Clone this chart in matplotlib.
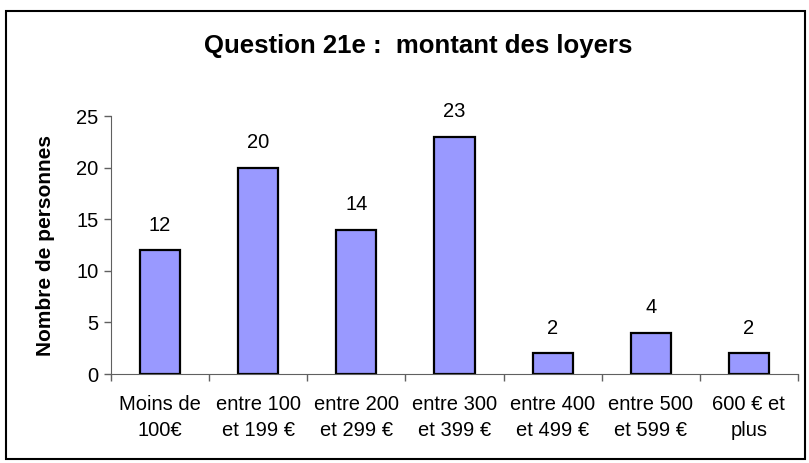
import matplotlib.pyplot as plt
from matplotlib.patches import Rectangle

categories = ["Moins de\n100€", "entre 100\net 199 €", "entre 200\net 299 €",
              "entre 300\net 399 €", "entre 400\net 499 €", "entre 500\net 599 €",
              "600 € et\nplus"]
counts = [12, 20, 14, 23, 2, 4, 2]
y_ticks = [0, 5, 10, 15, 20, 25]

plt.rcParams['font.family'] = ['Liberation Sans', 'DejaVu Sans']

fig = plt.figure(figsize=(8.09, 4.63), dpi=100)
ax = fig.add_axes([111 / 809, 89 / 463, 687 / 809, 258 / 463])

pos = list(range(len(categories)))
ax.bar(pos, counts, width=0.41, color='#9999FF', edgecolor='black', linewidth=1.6)
for x, v in zip(pos, counts):
    ax.annotate(str(v), (x, v), xytext=(0, 11), textcoords='offset points',
                ha='center', va='bottom', fontsize=14.5)

ax.set_xlim(-0.5, len(categories) - 0.5)
ax.set_ylim(0, 25)
ax.set_yticks(y_ticks)
ax.tick_params(axis='y', labelsize=14.5, length=5, width=1, direction='out', pad=4)

# boundary ticks between categories, labels sit on the centres
ax.set_xticks([i - 0.5 for i in range(len(categories) + 1)])
ax.set_xticklabels([])
ax.tick_params(axis='x', which='major', length=5, width=1, direction='out')
ax.set_xticks(pos, minor=True)
ax.set_xticklabels(categories, minor=True, fontsize=14.5, linespacing=1.5)
ax.tick_params(axis='x', which='minor', length=0, pad=15)

for side in ['top', 'right']:
    ax.spines[side].set_visible(False)
ax.spines['left'].set_color('#606060')
ax.spines['bottom'].set_color('#606060')
ax.tick_params(axis='both', which='major', color='#606060')

fig.text(46 / 809, 1 - 245 / 463, "Nombre de personnes", rotation=90, ha='center', va='center',
         fontsize=15, fontweight='bold')
fig.text(418 / 809, 1 - 46 / 463, "Question 21e :  montant des loyers", ha='center', va='center',
         fontsize=18.5, fontweight='bold')

fig.add_artist(Rectangle((6 / 809, 4 / 463), 799 / 809, 448 / 463, transform=fig.transFigure,
                         fill=False, edgecolor='black', linewidth=1.5))

fig.savefig('out.png', dpi=100)
